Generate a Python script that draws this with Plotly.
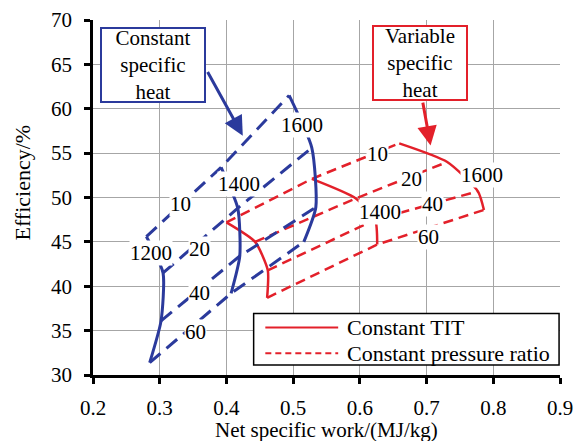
import plotly.graph_objects as go

# ---------------- data ----------------
tit_levels = [1200, 1400, 1600]          # turbine inlet temperature, K
pressure_ratios = [10, 20, 40, 60]

# Constant specific heat (blue): net work (MJ/kg) and efficiency (%) per TIT,
# ordered by pressure ratio 10, 20, 40, 60
csh_work_1200 = [0.280, 0.305, 0.302, 0.285]
csh_eff_1200 = [45.6, 41.5, 36.1, 31.4]
csh_work_1400 = [0.392, 0.417, 0.420, 0.407]
csh_eff_1400 = [53.4, 48.8, 43.4, 39.2]
csh_work_1600 = [0.494, 0.528, 0.534, 0.516]
csh_eff_1600 = [61.5, 55.6, 48.9, 45.0]

# Variable specific heat (red)
vsh_work_1200 = [0.400, 0.443, 0.462, 0.461]
vsh_eff_1200 = [47.2, 45.0, 41.8, 38.7]
vsh_work_1400 = [0.528, 0.594, 0.623, 0.626]
vsh_eff_1400 = [52.1, 49.9, 47.5, 44.7]
vsh_work_1600 = [0.659, 0.731, 0.777, 0.786]
vsh_eff_1600 = [56.1, 54.0, 50.7, 48.6]

x_ticks = [0.2, 0.3, 0.4, 0.5, 0.6, 0.7, 0.8, 0.9]
y_ticks = [30, 35, 40, 45, 50, 55, 60, 65, 70]

# label positions (data coords) for curve labels
blue_tit_label_pos = {1200: (0.2875, 43.7), 1400: (0.4187, 51.5), 1600: (0.5134, 58.2)}
blue_pr_label_pos = {10: (0.331, 49.3), 20: (0.360, 44.15), 40: (0.359, 39.25), 60: (0.353, 34.8)}
red_tit_label_pos = {1400: (0.630, 48.4), 1600: (0.783, 52.5)}
red_pr_label_pos = {10: (0.626, 54.85), 20: (0.677, 52.06), 40: (0.709, 49.3), 60: (0.703, 45.6)}

BLUE = "#2B3A9C"
RED = "#E3202A"
FONT = "Times New Roman, Liberation Serif, serif"

fig = go.Figure()

def add_family(works, effs, color, solid_w, dash_w, dash_pat):
    # constant pressure ratio lines (dashed)
    for i, pr in enumerate(pressure_ratios):
        fig.add_trace(go.Scatter(
            x=[w[i] for w in works], y=[e[i] for e in effs],
            mode="lines", line=dict(color=color, width=dash_w, dash=dash_pat),
            showlegend=False, hoverinfo="skip"))
    # constant TIT lines (solid)
    for w, e in zip(works, effs):
        fig.add_trace(go.Scatter(
            x=w, y=e, mode="lines",
            line=dict(color=color, width=solid_w, shape="spline", smoothing=0.6),
            showlegend=False, hoverinfo="skip"))

add_family([vsh_work_1200, vsh_work_1400, vsh_work_1600],
           [vsh_eff_1200, vsh_eff_1400, vsh_eff_1600], RED, 2.5, 2.5, "10px,6px")
add_family([csh_work_1200, csh_work_1400, csh_work_1600],
           [csh_eff_1200, csh_eff_1400, csh_eff_1600], BLUE, 3, 3, "14px,8px")

ann = []
def label(x, y, t):
    ann.append(dict(x=x, y=y, xref="x", yref="y", text=t, showarrow=False,
                    font=dict(family=FONT, size=21, color="black"),
                    bgcolor="white", borderpad=0))

for k, (x, y) in blue_tit_label_pos.items():
    label(x, y, str(k))
for k, (x, y) in blue_pr_label_pos.items():
    label(x, y, str(k))
for k, (x, y) in red_tit_label_pos.items():
    label(x, y, str(k))
for k, (x, y) in red_pr_label_pos.items():
    label(x, y, str(k))

# boxed callouts
ann.append(dict(x=0.290, y=64.93, xref="x", yref="y", text="Constant<br>specific<br>heat",
                showarrow=False, font=dict(family=FONT, size=21, color="black"),
                bgcolor="white", bordercolor=BLUE, borderwidth=2, borderpad=1,
                width=100, height=70))
ann.append(dict(x=0.6905, y=65.15, xref="x", yref="y", text="Variable<br>specific<br>heat",
                showarrow=False, font=dict(family=FONT, size=21, color="black"),
                bgcolor="white", bordercolor=RED, borderwidth=2, borderpad=1,
                width=90, height=70))
# arrows
ann.append(dict(x=0.4245, y=56.96, ax=0.3706, ay=64.3, xref="x", yref="y",
                axref="x", ayref="y", text="", showarrow=True, arrowhead=2,
                arrowsize=1.3, arrowwidth=3, arrowcolor=BLUE))
ann.append(dict(x=0.706, y=55.85, ax=0.694, ay=60.86, xref="x", yref="y",
                axref="x", ayref="y", text="", showarrow=True, arrowhead=2,
                arrowsize=1.3, arrowwidth=3, arrowcolor=RED))

# axis titles
ann.append(dict(x=0.5, y=0, xref="paper", yref="paper", yanchor="middle",
                yshift=-55, text="Net specific work/(MJ/kg)", showarrow=False,
                font=dict(family=FONT, size=21, color="black")))
ann.append(dict(x=0, y=0.5, xref="paper", yref="paper", xanchor="center",
                xshift=-71, yshift=15, text="Efficiency/%", textangle=-90, showarrow=False,
                font=dict(family=FONT, size=22, color="black")))

# custom legend
shapes = [
    dict(type="rect", xref="paper", yref="paper", x0=0.344, x1=0.998, y0=0.028, y1=0.173,
         line=dict(color="black", width=1.5), fillcolor="white", layer="above"),
    dict(type="line", xref="paper", yref="paper", x0=0.369, x1=0.525, y0=0.134, y1=0.134,
         line=dict(color=RED, width=2), layer="above"),
    dict(type="line", xref="paper", yref="paper", x0=0.369, x1=0.525, y0=0.061, y1=0.061,
         line=dict(color=RED, width=2, dash="6px,4px"), layer="above"),
]
ann.append(dict(x=0.54, y=0.134, xref="paper", yref="paper", xanchor="left", yanchor="middle",
                text="Constant TIT", showarrow=False, font=dict(family=FONT, size=22, color="black")))
ann.append(dict(x=0.54, y=0.061, xref="paper", yref="paper", xanchor="left", yanchor="middle",
                text="Constant pressure ratio", showarrow=False,
                font=dict(family=FONT, size=22, color="black")))

axis_common = dict(showline=True, linecolor="black", linewidth=2.5, ticks="outside",
                   ticklen=6, tickwidth=2.5, tickcolor="black", showgrid=True,
                   gridcolor="#A6A6A6", gridwidth=1, zeroline=False,
                   tickfont=dict(family=FONT, size=21, color="black"))

fig.update_layout(
    width=581, height=441, margin=dict(l=93, r=8, t=16, b=66),
    paper_bgcolor="white", plot_bgcolor="white",
    xaxis=dict(range=[0.2, 0.9], tickvals=x_ticks, tickformat=".1f",
               ticklabelstandoff=6, ticklabeloverflow="allow", **axis_common),
    yaxis=dict(range=[30, 70], tickvals=y_ticks, ticklabelstandoff=8,
               ticklabeloverflow="allow", **axis_common),
    annotations=ann, shapes=shapes, showlegend=False,
)

fig.write_html("out.html")
